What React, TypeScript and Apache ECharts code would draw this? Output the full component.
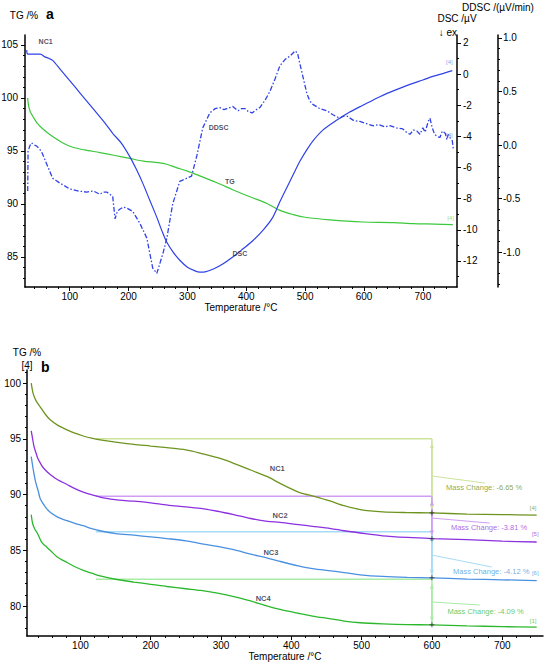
import React, { useEffect, useRef } from "react";
import * as echarts from "echarts";

const FONT = "'Liberation Sans', Arial, sans-serif";

// ---------- Panel a ----------
const tgA: [number, number][] = [
  [28.5, 100], [30, 99.3], [33, 98.7], [37, 98.3], [45, 97.6], [54, 97.1], [65, 96.6], [78, 96.1],
  [90, 95.7], [105, 95.35], [125, 95.1], [151, 94.85], [175, 94.6], [202, 94.3], [225, 94.05],
  [250, 93.9], [265, 93.75], [280, 93.45], [300, 93.1], [321, 92.65], [350, 92.0], [377, 91.35],
  [405, 90.7], [435, 90.05], [457, 89.4], [480, 89.0], [500, 88.75], [542, 88.5], [598, 88.3],
  [650, 88.25], [683, 88.15], [720, 88.1], [751, 88.05],
];

const dscA: [number, number][] = [
  [27, 1.55], [28, 1.3], [35, 1.28], [50, 1.28], [57, 1.12], [65, 1.0], [71, 0.88], [85, 0.25],
  [100, -0.42], [120, -1.33], [140, -2.24], [160, -3.15], [173, -3.8], [188, -4.45], [202, -5.3],
  [213, -6.1], [224, -7.0], [236, -8.1], [248, -9.2], [257, -10.1], [265, -10.8], [276, -11.45],
  [287, -11.95], [300, -12.4], [312, -12.62], [321, -12.72], [330, -12.7], [345, -12.5],
  [360, -12.2], [377, -11.75], [395, -11.2], [411, -10.7], [430, -9.95], [445, -9.2], [457, -8.2],
  [466, -7.5], [474, -6.9], [483, -6.2], [491, -5.6], [503, -4.85], [513, -4.3], [530, -3.6],
  [554, -2.95], [575, -2.45], [598, -2.0], [627, -1.45], [655, -1.0], [683, -0.6], [700, -0.38],
  [717, -0.15], [735, 0.05], [750, 0.22],
];

const ddscA: [number, number][] = [
  [28.6, -0.43], [29.2, -0.06], [32, -0.01], [35, 0.02], [40, 0.0], [44, -0.01], [52, -0.06],
  [61, -0.18], [71, -0.31], [83, -0.355], [100, -0.41], [115, -0.43], [129, -0.44], [140, -0.43],
  [151, -0.46], [157, -0.44], [163, -0.44], [168, -0.46], [173, -0.48], [177, -0.69], [181, -0.62],
  [185, -0.6], [191, -0.58], [197, -0.59], [207, -0.62], [219, -0.73], [231, -0.87], [241, -1.15],
  [248, -1.2], [253, -1.11], [259, -1.0], [265, -0.87], [275, -0.55], [287, -0.34], [299, -0.31],
  [307, -0.29], [316, -0.1], [326, 0.16], [338, 0.3], [347, 0.34], [355, 0.35], [362, 0.33],
  [367, 0.34], [372, 0.35], [377, 0.36], [386, 0.32], [392, 0.34], [398, 0.34], [404, 0.31],
  [410, 0.3], [417, 0.33], [423, 0.35], [432, 0.42], [440, 0.5], [449, 0.62], [457, 0.74],
  [466, 0.8], [474, 0.83], [483, 0.88], [487, 0.86], [491, 0.76], [497, 0.62], [503, 0.48],
  [508, 0.41], [513, 0.38], [525, 0.34], [537, 0.32], [548, 0.28], [559, 0.25], [565, 0.27],
  [571, 0.27], [582, 0.23], [593, 0.22], [604, 0.2], [615, 0.18], [625, 0.19], [635, 0.17],
  [644, 0.18], [655, 0.16], [666, 0.15], [672, 0.12], [678, 0.1], [684, 0.14], [690, 0.13],
  [695, 0.1], [700, 0.16], [704, 0.12], [709, 0.22], [712, 0.25], [716, 0.16], [720, 0.1],
  [724, 0.08], [729, 0.07], [733, 0.13], [738, 0.11], [741, 0.05], [743, 0.1], [747, 0.06],
  [750, 0.04], [752, -0.05],
];

// ---------- Panel b ----------
const nc1: [number, number][] = [
  [30, 100], [33, 99.0], [37, 98.4], [43, 97.85], [50, 97.2], [57, 96.7], [68, 96.2], [81, 95.8],
  [92, 95.5], [104, 95.25], [116, 95.05], [128, 94.9], [150, 94.7], [176, 94.5], [200, 94.35],
  [223, 94.2], [250, 94.0], [271, 93.7], [295, 93.3], [318, 92.8], [342, 92.2], [366, 91.6],
  [384, 91.0], [400, 90.5], [413, 90.15], [435, 89.8], [456, 89.4], [475, 89.0], [498, 88.65],
  [530, 88.45], [565, 88.38], [600, 88.35], [650, 88.25], [700, 88.2], [749, 88.15],
];
const nc2: [number, number][] = [
  [30, 95.7], [32, 95.0], [34, 94.3], [37, 93.7], [39, 93.3], [45, 92.6], [50, 92.2], [57, 91.8],
  [67, 91.35], [81, 90.9], [93, 90.5], [105, 90.2], [118, 89.95], [133, 89.7], [155, 89.5],
  [176, 89.4], [200, 89.25], [224, 89.05], [250, 88.9], [271, 88.75], [295, 88.5], [318, 88.2],
  [342, 87.85], [366, 87.6], [384, 87.5], [410, 87.3], [430, 87.15], [456, 86.95], [475, 86.75],
  [498, 86.55], [530, 86.3], [565, 86.15], [600, 86.05], [650, 85.95], [700, 85.82], [749, 85.74],
];
const nc3: [number, number][] = [
  [30, 93.4], [33, 92.2], [36, 91.2], [40, 90.3], [43, 89.6], [50, 88.9], [57, 88.4], [67, 88.0],
  [81, 87.65], [93, 87.4], [104, 87.2], [116, 86.95], [128, 86.75], [150, 86.5], [176, 86.35],
  [200, 86.2], [223, 86.05], [250, 85.85], [271, 85.6], [295, 85.35], [318, 85.05], [342, 84.65],
  [366, 84.3], [384, 84.0], [410, 83.6], [430, 83.35], [456, 83.15], [475, 83.0], [498, 82.8],
  [530, 82.65], [565, 82.57], [600, 82.53], [650, 82.42], [700, 82.35], [749, 82.28],
];
const nc4: [number, number][] = [
  [30, 88.2], [32, 87.4], [35, 86.9], [39, 86.5], [45, 85.7], [50, 85.4], [57, 85.0], [67, 84.4],
  [81, 83.9], [93, 83.5], [104, 83.2], [116, 82.95], [128, 82.7], [150, 82.4], [176, 82.15],
  [200, 81.95], [223, 81.75], [250, 81.55], [271, 81.4], [295, 81.15], [318, 80.85], [342, 80.45],
  [366, 80.0], [384, 79.7], [410, 79.35], [430, 79.1], [456, 78.85], [475, 78.65], [498, 78.5],
  [530, 78.4], [565, 78.33], [600, 78.31], [650, 78.22], [700, 78.15], [749, 78.1],
];

const tempTicks = [100, 200, 300, 400, 500, 600, 700];
const tgATicks = [85, 90, 95, 100, 105];
const dscTicks = [-12, -10, -8, -6, -4, -2, 0, 2];
const ddscTicks = [-1, -0.5, 0, 0.5, 1];
const tgBTicks = [80, 85, 90, 95, 100];

const sampleNames = ["NC1", "NC2", "NC3", "NC4"];
const baseStartTemp = 122;
const evalTemp = 600;
const baselineValues = [95.0, 89.85, 86.65, 82.4];
const endValues = [88.35, 86.04, 82.53, 78.31];
const massChanges = ["-6.65", "-3.81", "-4.12", "-4.09"];
const curveTags = ["[4]", "[5]", "[6]", "[1]"];

// annotation anchors (data coordinates)
const labelAnchorsA = [
  { t: 59, v: 105.3, text: "NC1" },
  { t: 353, v: 97.2, text: "DDSC" },
  { t: 372, v: 92.1, text: "TG" },
  { t: 389, v: 85.3, text: "DSC" },
];
const tagAnchorsA = [
  { t: 745, v: 103.4, text: "[4]" },
  { t: 745, v: 96.5, text: "[4]" },
  { t: 747, v: 88.7, text: "[4]" },
];
const nameAnchorsB = [
  { t: 380, v: 92.3 },
  { t: 384, v: 88.1 },
  { t: 371, v: 84.8 },
  { t: 360, v: 80.7 },
];
const leaderStartB = [91.66, 87.89, 84.57, 80.36];
const leaderEndB: [number, number][] = [[675, 91.03], [682, 87.44], [685, 83.5], [668, 80.09]];
const massLabelAnchorsB: [number, number][] = [[620, 90.67], [627, 87.0], [630, 83.14], [622, 79.55]];
const tagAnchorsB: [number, number][] = [[744, 88.8], [747, 86.45], [747, 82.96], [744, 78.65]];

const curveColorsB = ["#6e9420", "#8c30e0", "#4a90e0", "#2cb82c"];
const lightColorsB = ["#cde39c", "#cf9df3", "#a6dcf5", "#a8eca8"];
const textColorsB = ["#6e9420", "#9a3ddb", "#4a9ae0", "#3cbc3c"];

const X_MIN = 24;
const X_MAX = 758;

function minorValues(from: number, to: number, step: number, major: number) {
  const out: number[] = [];
  const start = Math.ceil(from / step - 1e-9);
  for (let k = start; k * step <= to + 1e-9; k++) {
    const v = +(k * step).toFixed(4);
    const r = v / major;
    if (Math.abs(r - Math.round(r)) > 1e-6) out.push(v);
  }
  return out;
}

export default function App() {
  const ref = useRef<HTMLDivElement>(null);

  useEffect(() => {
    if (!ref.current) return;
    const chart = echarts.init(ref.current, undefined, { renderer: "svg" });

    const lineStyleAxis = { color: "#000", width: 1.5 };
    const labelStyle = { fontSize: 10, color: "#000", fontFamily: FONT };

    const xMain = (gridIndex: number) => ({
      type: "value",
      gridIndex,
      position: "bottom",
      min: X_MIN,
      max: X_MAX,
      axisLine: { show: true, onZero: false, lineStyle: lineStyleAxis },
      axisTick: { show: true, customValues: tempTicks, length: 4, lineStyle: { color: "#000", width: 1 } },
      axisLabel: { show: true, customValues: tempTicks, margin: 4, ...labelStyle },
      splitLine: { show: false },
      name: "Temperature /°C",
      nameLocation: "middle",
      nameGap: 15,
      nameTextStyle: labelStyle,
    });
    const xMinor = (gridIndex: number) => ({
      type: "value",
      gridIndex,
      position: "bottom",
      min: X_MIN,
      max: X_MAX,
      axisLine: { show: false, onZero: false },
      axisTick: { show: true, customValues: minorValues(30, 750, 20, 100), length: 2, lineStyle: { color: "#000", width: 1 } },
      axisLabel: { show: false },
      splitLine: { show: false },
    });
    const yAxisPair = (
      gridIndex: number,
      position: string,
      offset: number,
      min: number,
      max: number,
      ticks: number[],
      minor: number[],
      fmt: (v: number) => string,
      margin: number
    ) => [
      {
        type: "value",
        gridIndex,
        position,
        offset,
        min,
        max,
        axisLine: { show: true, onZero: false, lineStyle: lineStyleAxis },
        axisTick: { show: true, customValues: ticks, length: 4, lineStyle: { color: "#000", width: 1 } },
        axisLabel: { show: true, customValues: ticks, formatter: fmt, margin, ...labelStyle },
        splitLine: { show: false },
      },
      {
        type: "value",
        gridIndex,
        position,
        offset,
        min,
        max,
        axisLine: { show: false, onZero: false },
        axisTick: { show: true, customValues: minor, length: 2, lineStyle: { color: "#000", width: 1 } },
        axisLabel: { show: false },
        splitLine: { show: false },
      },
    ];

    const yAxes = [
      ...yAxisPair(0, "left", 0, 82.17, 105.94, tgATicks, minorValues(83, 105, 1, 5), (v) => String(v), 7),
      ...yAxisPair(0, "right", 0, -13.67, 2.51, dscTicks, minorValues(-13.5, 2.5, 1, 2), (v) => String(v), 6),
      ...yAxisPair(0, "right", 41, -1.327, 1.028, ddscTicks, minorValues(-1.3, 1.0, 0.1, 0.5), (v) => v.toFixed(1), 5),
      ...yAxisPair(1, "left", 0, 77.31, 101.17, tgBTicks, minorValues(78, 101, 1, 5), (v) => String(v), 6),
    ];

    const line = (data: any[], xi: number, yi: number, color: string, width = 1.2, extra: any = {}) => ({
      type: "line",
      data,
      xAxisIndex: xi,
      yAxisIndex: yi,
      symbol: "none",
      silent: true,
      lineStyle: { color, width },
      itemStyle: { color },
      z: 3,
      ...extra,
    });

    const textPoint = (
      xi: number,
      yi: number,
      value: [number, number],
      text: string,
      color: string,
      size: number,
      weight: string = "normal",
      position: string = "inside"
    ) => ({
      type: "scatter",
      xAxisIndex: xi,
      yAxisIndex: yi,
      symbolSize: 0,
      silent: true,
      z: 6,
      itemStyle: { color: "transparent" },
      data: [
        {
          value,
          label: {
            show: true,
            formatter: text,
            color,
            fontSize: size,
            fontWeight: weight,
            fontFamily: FONT,
            position,
            distance: 0,
          },
        },
      ],
    });

    const series: any[] = [
      line(tgA, 0, 0, "#3cc83c", 1.2, { smooth: 0.3 }),
      line(dscA, 0, 2, "#2f42e6", 1.2, { smooth: 0.3 }),
      line(ddscA, 0, 4, "#2f42e6", 1.3, { lineStyle: { color: "#2f42e6", width: 1.3, type: [5, 2, 1.5, 2] } }),
      ...labelAnchorsA.map((a) => textPoint(0, 0, [a.t, a.v], a.text, "#1e1e3c", 7, "bold")),
      textPoint(0, 0, [tagAnchorsA[0].t, tagAnchorsA[0].v], tagAnchorsA[0].text, "#6f7fe8", 6),
      textPoint(0, 0, [tagAnchorsA[1].t, tagAnchorsA[1].v], tagAnchorsA[1].text, "#6f7fe8", 6),
      textPoint(0, 0, [tagAnchorsA[2].t, tagAnchorsA[2].v], tagAnchorsA[2].text, "#7bd87b", 6),
    ];

    const curvesB = [nc1, nc2, nc3, nc4];
    baselineValues.forEach((b, i) => {
      series.push(
        line(
          [
            [baseStartTemp, b],
            [evalTemp, b],
          ],
          2,
          6,
          lightColorsB[i],
          1.5,
          { z: 2 }
        )
      );
    });
    baselineValues.forEach((b, i) => {
      series.push(
        line(
          [
            { value: [evalTemp, b - 0.6], symbol: "triangle", symbolSize: [4, 5], symbolRotate: 0 },
            { value: [evalTemp, endValues[i] + 0.5], symbol: "triangle", symbolSize: [4, 5], symbolRotate: 180 },
          ],
          2,
          6,
          lightColorsB[i],
          1.5,
          { z: 2, showSymbol: true, symbol: "none" }
        )
      );
      series.push(
        line(
          [
            [evalTemp, b],
            [evalTemp, endValues[i]],
          ],
          2,
          6,
          lightColorsB[i],
          1.5,
          { z: 2 }
        )
      );
      series.push(
        line(
          [
            [evalTemp, leaderStartB[i]],
            leaderEndB[i],
          ],
          2,
          6,
          lightColorsB[i],
          1,
          { z: 2 }
        )
      );
    });
    curvesB.forEach((c, i) => {
      series.push(line(c, 2, 6, curveColorsB[i], 1.3, { smooth: 0.3 }));
    });
    endValues.forEach((e) => {
      series.push({
        type: "scatter",
        xAxisIndex: 2,
        yAxisIndex: 6,
        silent: true,
        z: 5,
        symbol: "rect",
        symbolSize: [5, 1],
        itemStyle: { color: "#333" },
        data: [[evalTemp, e]],
      });
      series.push({
        type: "scatter",
        xAxisIndex: 2,
        yAxisIndex: 6,
        silent: true,
        z: 5,
        symbol: "rect",
        symbolSize: [1, 5],
        itemStyle: { color: "#333" },
        data: [[evalTemp, e]],
      });
    });
    sampleNames.forEach((n, i) => {
      series.push(textPoint(2, 6, [nameAnchorsB[i].t, nameAnchorsB[i].v], n, "#1e1e3c", 7.5, "bold"));
      series.push(
        textPoint(2, 6, massLabelAnchorsB[i], `Mass Change: ${massChanges[i]} %`, textColorsB[i], 7.5, "normal", "right")
      );
      series.push(textPoint(2, 6, tagAnchorsB[i], curveTags[i], textColorsB[i], 6));
    });

    const gtext = (x: number, y: number, text: string, font: string, align: string, color = "#000") => ({
      type: "text",
      x,
      y,
      silent: true,
      style: {
        text,
        font,
        fill: color,
        textAlign: align,
        textVerticalAlign: "middle",
        align,
        verticalAlign: "middle",
      },
    });

    chart.setOption({
      animation: false,
      backgroundColor: "#fff",
      textStyle: { fontFamily: FONT },
      grid: [
        { left: 25, top: 35, width: 432, height: 252, containLabel: false, outerBoundsMode: "none" },
        { left: 27, top: 370, width: 516, height: 266, containLabel: false, outerBoundsMode: "none" },
      ],
      xAxis: [xMain(0), xMinor(0), xMain(1), xMinor(1)],
      yAxis: yAxes,
      series,
      graphic: [
        gtext(24, 15, "TG /%", `10px ${FONT}`, "center"),
        gtext(46, 14, "a", `bold 14px ${FONT}`, "left"),
        gtext(457, 18, "DSC /µV", `10px ${FONT}`, "center"),
        gtext(498, 7, "DDSC /(µV/min)", `10px ${FONT}`, "center"),
        gtext(457, 32, "↓ ex", `10px ${FONT}`, "right"),
        gtext(27, 352, "TG /%", `10px ${FONT}`, "center"),
        gtext(27, 365, "[4]", `10px ${FONT}`, "center"),
        gtext(41, 367, "b", `bold 14px ${FONT}`, "left"),
      ],
    } as any);

    return () => chart.dispose();
  }, []);

  return (
    <div
      ref={ref}
      style={{ position: "absolute", left: 0, top: 0, width: 545, height: 664, background: "#fff" }}
    />
  );
}
